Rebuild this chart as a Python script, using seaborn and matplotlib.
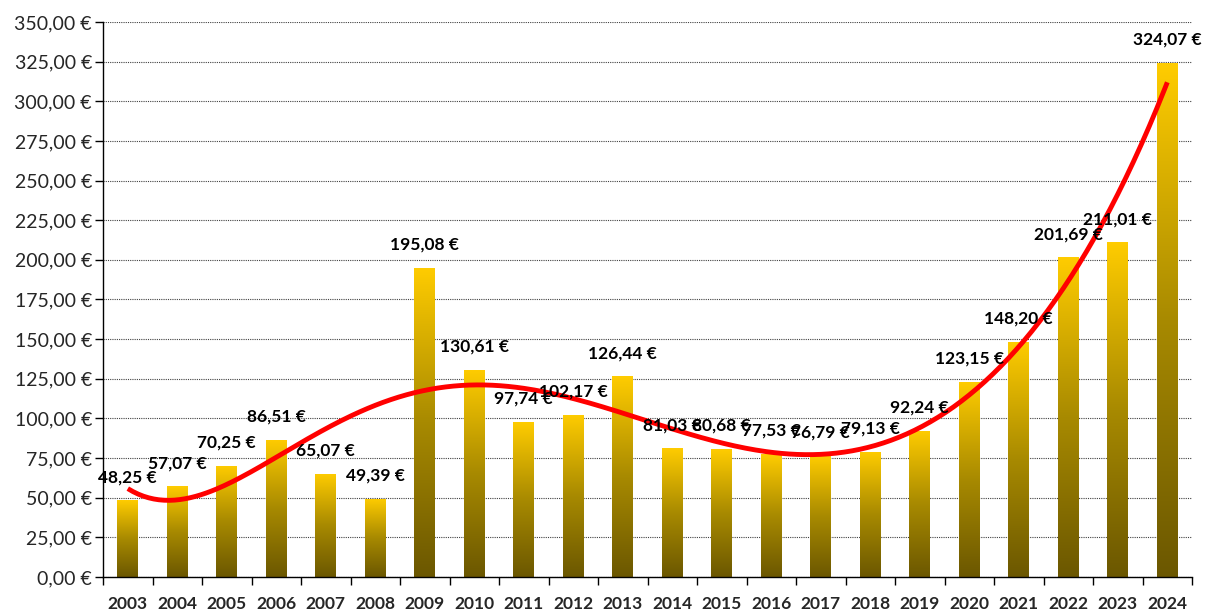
import numpy as np
import pandas as pd
import matplotlib
matplotlib.use("Agg")
import matplotlib.pyplot as plt
import seaborn as sns
from matplotlib.colors import LinearSegmentedColormap

years = ["2003", "2004", "2005", "2006", "2007", "2008", "2009", "2010", "2011", "2012", "2013",
         "2014", "2015", "2016", "2017", "2018", "2019", "2020", "2021", "2022", "2023", "2024"]
values = [48.25, 57.07, 70.25, 86.51, 65.07, 49.39, 195.08, 130.61, 97.74, 102.17, 126.44,
          81.03, 80.68, 77.53, 76.79, 79.13, 92.24, 123.15, 148.20, 201.69, 211.01, 324.07]
y_ticks = list(range(0, 351, 25))

def euro(v):
    return f"{v:,.2f}".replace(",", "X").replace(".", ",").replace("X", ".") + " €"

sns.set_theme(style="white")
plt.rcParams["font.family"] = ["Lato", "DejaVu Sans"]

df = pd.DataFrame({"year": years, "value": values})

fig = plt.figure(figsize=(12.08, 6.10), dpi=100)
ax = fig.add_axes([0.0853, 0.0541, 0.9868 - 0.0853, 0.964 - 0.0541])

sns.barplot(data=df, x="year", y="value", ax=ax, width=0.42, color="#FFCC00", saturation=1)

# vertical gold gradient inside each bar
cmap = LinearSegmentedColormap.from_list("gold", ["#6B5700", "#A88A00", "#FFCC00"])
grad = np.linspace(0, 1, 256).reshape(-1, 1)
for p in ax.patches:
    x0, y0 = p.get_x(), p.get_y()
    w, h = p.get_width(), p.get_height()
    im = ax.imshow(grad, cmap=cmap, origin="lower", aspect="auto",
                   extent=[x0, x0 + w, y0, y0 + h], zorder=2)
    im.set_clip_path(p)
    p.set_facecolor("none")
    p.set_edgecolor("none")

# polynomial trend line
xi = np.arange(len(values))
coef = np.polyfit(xi, values, 6)
xs = np.linspace(0, len(values) - 1, 400)
ax.plot(xs, np.polyval(coef, xs), color="#FF0000", lw=3.5, zorder=4, solid_capstyle="butt")

# value labels
for i, v in enumerate(values):
    ax.text(i, v + 9.5, euro(v), ha="center", va="bottom", fontsize=12.5,
            fontweight="bold", color="black", zorder=5)

ax.set_xlim(-0.5, len(values) - 0.5)
ax.set_ylim(0, 350)
ax.set_yticks(y_ticks)
ax.set_yticklabels([euro(t) for t in y_ticks], fontsize=14)
ax.set_xlabel("")
ax.set_ylabel("")
ax.set_xticks(xi)
ax.set_xticklabels(years, fontsize=12.5, fontweight="bold")
ax.set_xticks(np.arange(-0.5, len(values), 1), minor=True)
ax.tick_params(axis="x", which="major", length=0, pad=14)
ax.tick_params(axis="x", which="minor", length=6, width=1, color="black", direction="out", bottom=True)
ax.tick_params(axis="y", length=6, width=1, color="black", direction="out", left=True, pad=2)

ax.yaxis.grid(True, linestyle=(0, (1, 1)), color="#404040", lw=0.8)
ax.set_axisbelow(True)
for s in ["top", "right"]:
    ax.spines[s].set_visible(False)
for s in ["left", "bottom"]:
    ax.spines[s].set_color("black")
    ax.spines[s].set_linewidth(1)

fig.savefig("out.png", dpi=100)
